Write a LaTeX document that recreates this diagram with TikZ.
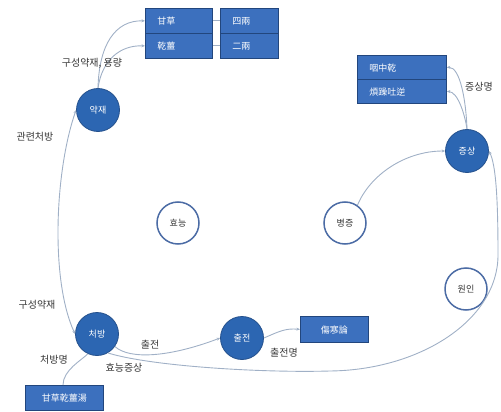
\documentclass[tikz,border=0pt]{standalone}
\usepackage{fontspec}
\newfontfamily\kr{Noto Sans CJK KR}
\usetikzlibrary{arrows.meta}
\definecolor{ballblue}{RGB}{44,102,178}
\definecolor{balledge}{RGB}{36,80,140}
\definecolor{boxblue}{RGB}{60,112,190}
\definecolor{boxedge}{RGB}{34,70,125}
\definecolor{ringblue}{RGB}{76,108,165}
\definecolor{linkgray}{RGB}{160,176,198}
\definecolor{labgray}{RGB}{55,55,55}
\tikzset{
  ball/.style={circle, minimum size=43pt, inner sep=0pt, fill=ballblue, draw=balledge, line width=0.8pt, text=white, font=\kr\fontsize{9}{10}\selectfont},
  ring/.style={circle, minimum size=42pt, inner sep=0pt, fill=white, draw=ringblue, line width=1.5pt, text=labgray, font=\kr\fontsize{9}{10}\selectfont},
  cell/.style={rectangle, fill=boxblue, draw=boxedge, line width=0.8pt, text=white, font=\kr\fontsize{9}{10}\selectfont, anchor=north west, inner sep=0pt, text depth=0pt},
  link/.style={draw=linkgray, line width=0.9pt},
  linkarr/.style={link, -{Stealth[length=3.5pt,width=3pt]}},
  lab/.style={text=labgray, font=\kr\fontsize{10}{11}\selectfont, inner sep=0pt}
}
\begin{document}
\begin{tikzpicture}[x=1pt,y=-1pt]
\useasboundingbox (0,0) rectangle (501,412);
% circles
\node[ball] (yak) at (98,110) {약재};
\node[ball] (cheo) at (97,334) {처방};
\node[ball] (chul) at (242,338) {출전};
\node[ball] (jung) at (467,151) {증상};
\node[ring] (hyo) at (178,223) {효능};
\node[ring] (byung) at (345,223) {병증};
\node[ring] (won) at (466,289) {원인};
% top boxes
\node[cell, minimum width=67pt, minimum height=25pt, text width=59pt, align=left] (b1) at (145,8) {\hspace*{8pt}甘草};
\node[cell, minimum width=67pt, minimum height=25pt, text width=59pt, align=left] (b2) at (145,33) {\hspace*{8pt}乾薑};
\node[cell, minimum width=58pt, minimum height=25pt, text width=50pt, align=left] (c1) at (220,8) {\hspace*{8pt}四兩};
\node[cell, minimum width=58pt, minimum height=25pt, text width=50pt, align=left] (c2) at (220,33) {\hspace*{8pt}二兩};
% right boxes
\node[cell, minimum width=89pt, minimum height=24pt, text width=81pt, align=left] (s1) at (357,55) {\hspace*{8pt}咽中乾};
\node[cell, minimum width=89pt, minimum height=24pt, text width=81pt, align=left] (s2) at (357,79) {\hspace*{8pt}煩躁吐逆};
% source box
\node[cell, minimum width=68pt, minimum height=26pt] (src) at (300,316) {傷寒論};
% prescription name box
\node[cell, minimum width=78pt, minimum height=25pt] (pn) at (25,385) {甘草乾薑湯};
% connectors
\draw[link, {Stealth[length=3.5pt,width=3pt]}-{Stealth[length=3.5pt,width=3pt]}] (yak.west) .. controls (55,170) and (50,280) .. (cheo.west);
\draw[linkarr] (yak.north) .. controls (99,45) and (115,20) .. (b1.west);
\draw[linkarr] (yak.north) .. controls (102,60) and (120,45) .. (b2.west);
\draw[link] (b1.east) -- (c1.west);
\draw[link] (b2.east) -- (c2.west);
\draw[linkarr] (cheo.-35) .. controls (130,360) and (170,357) .. (chul.west);
\draw[linkarr] (cheo.-60) .. controls (150,366) and (260,373) .. (330,371)
  coordinate (m1) .. controls (420,370) and (498,320) .. (498,255)
  coordinate (m2) .. controls (498,200) and (496,165) .. (jung.east);
\draw[link] (cheo.-115) .. controls (82,360) and (63,370) .. (pn.north -| 63,0);
\draw[linkarr] (chul.east) .. controls (278,332) and (285,328) .. (src.west);
\draw[linkarr] (byung.55) .. controls (370,175) and (405,151) .. (jung.west);
\draw[linkarr] (jung.north) .. controls (466,100) and (460,67) .. (s1.east);
\draw[linkarr] (jung.north) .. controls (465,115) and (458,92) .. (s2.east);
% labels
\node[lab] (l1) at (92,63) {구성약재, 용량};
\node[lab] (l2) at (35,137) {관련처방};
\node[lab] (l3) at (37,305) {구성약재};
\node[lab] (l4) at (54,360) {처방명};
\node[lab] (l5) at (150,345) {출전};
\node[lab] (l6) at (124,368) {효능증상};
\node[lab] (l7) at (284,353) {출전명};
\node[lab, anchor=west] (l8) at (465,87) {증상명};
\end{tikzpicture}
\end{document}
